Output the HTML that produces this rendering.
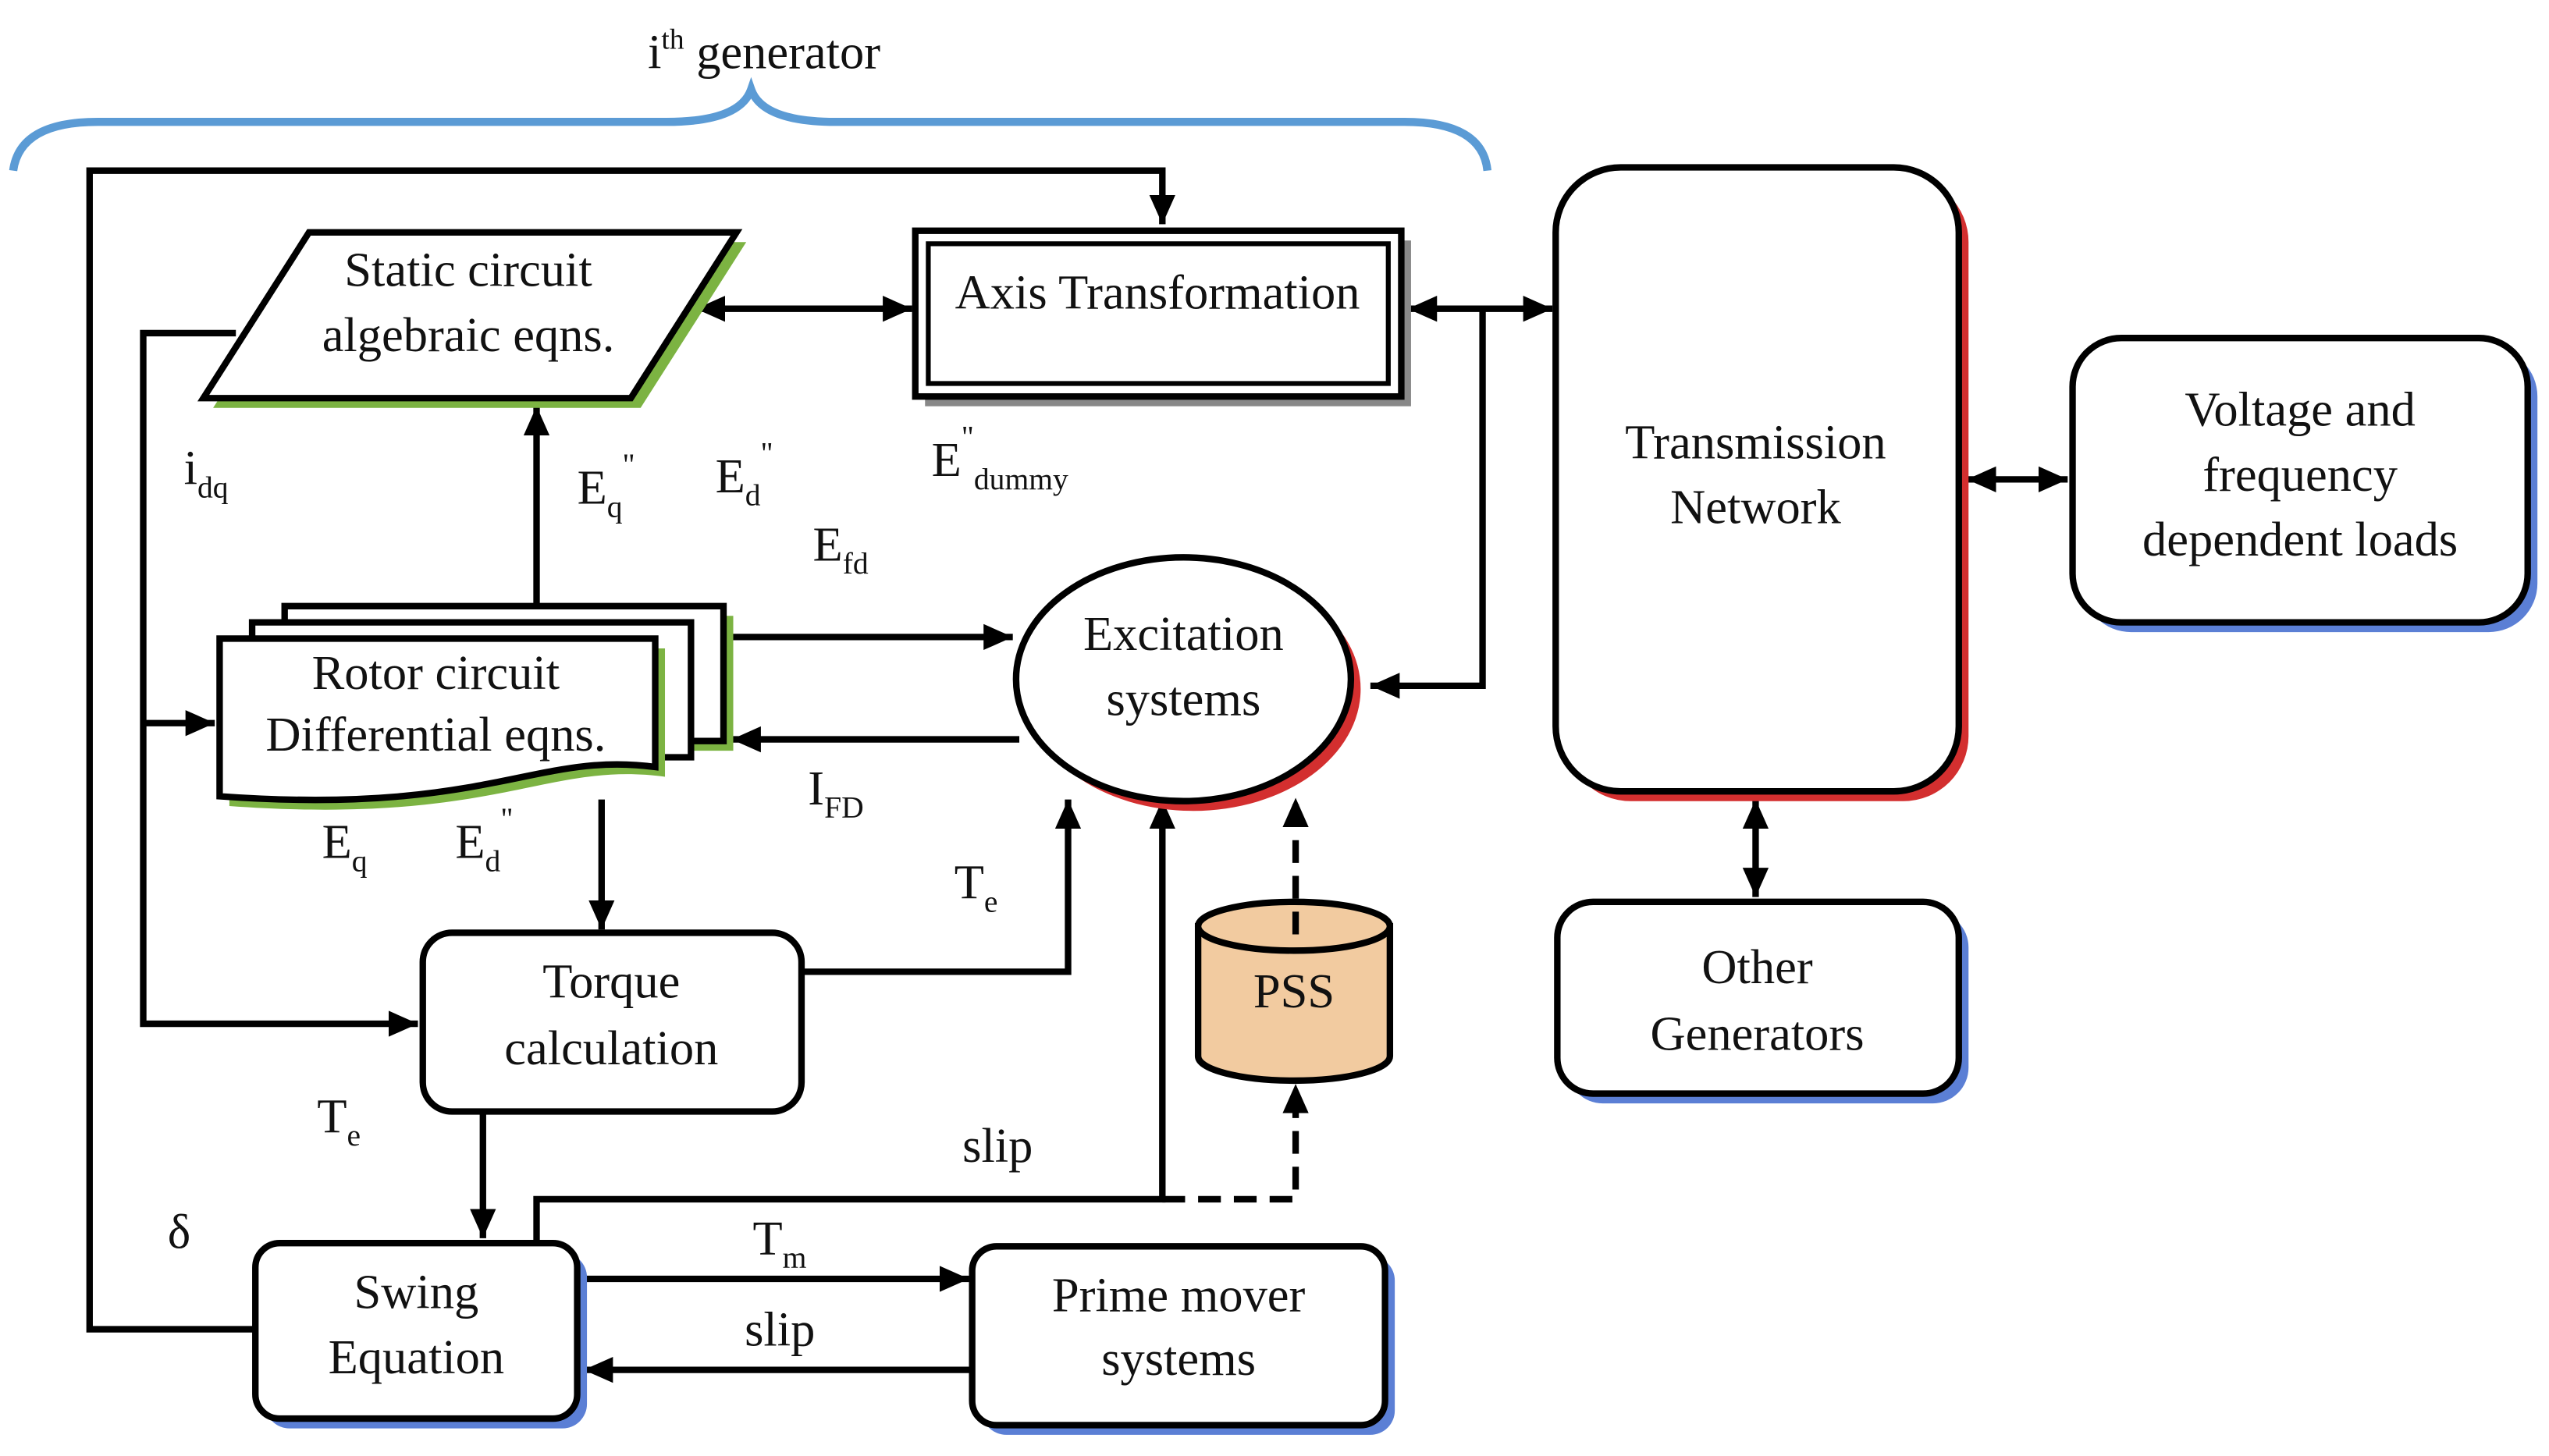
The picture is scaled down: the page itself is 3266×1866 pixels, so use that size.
<!DOCTYPE html>
<html><head><meta charset="utf-8"><style>
html,body{margin:0;padding:0;background:#fff;}
svg{display:block;}
text{font-family:"Liberation Serif",serif;fill:#111;}
</style></head><body>
<svg width="3266" height="1866" viewBox="0 0 1568 896" xmlns="http://www.w3.org/2000/svg">
<defs>
<marker id="A" markerWidth="20" markerHeight="20" refX="18" refY="10" orient="auto" markerUnits="userSpaceOnUse"><path d="M0,2 L18,10 L0,18 z" fill="#000"/></marker>
<marker id="S" markerWidth="20" markerHeight="20" refX="2" refY="10" orient="auto" markerUnits="userSpaceOnUse"><path d="M20,2 L2,10 L20,18 z" fill="#000"/></marker>
</defs>
<g font-size="30" text-anchor="middle">
<path d="M8,105 Q12,75 60,75 L410,75 Q455,75 462,55 Q469,75 514,75 L864,75 Q912,75 915,105" fill="none" stroke="#5b9bd5" stroke-width="5"/>
<text x="470" y="42">i<tspan font-size="18" dy="-12">th</tspan><tspan dy="12"> generator</tspan></text>

<g stroke="#000" stroke-width="4" fill="none">
<polyline points="157,818 55,818 55,105 715,105 715,138" marker-end="url(#A)"/>
<line x1="428" y1="190" x2="561" y2="190" marker-start="url(#S)" marker-end="url(#A)"/>
<line x1="866" y1="190" x2="955" y2="190" marker-start="url(#S)" marker-end="url(#A)"/>
<polyline points="912,190 912,422 843,422" marker-end="url(#A)"/>
<line x1="1210" y1="295" x2="1272" y2="295" marker-start="url(#S)" marker-end="url(#A)"/>
<line x1="1080" y1="492" x2="1080" y2="552" marker-start="url(#S)" marker-end="url(#A)"/>
<line x1="330" y1="373" x2="330" y2="250" marker-end="url(#A)"/>
<line x1="447" y1="392" x2="623" y2="392" marker-end="url(#A)"/>
<line x1="627" y1="455" x2="450" y2="455" marker-end="url(#A)"/>
<polyline points="145,205 88,205 88,630 257,630" marker-end="url(#A)"/>
<line x1="88" y1="445" x2="132" y2="445" marker-end="url(#A)"/>
<line x1="370" y1="492" x2="370" y2="572" marker-end="url(#A)"/>
<polyline points="493,598 657,598 657,492" marker-end="url(#A)"/>
<line x1="297" y1="684" x2="297" y2="762" marker-end="url(#A)"/>
<polyline points="330,765 330,738 715,738 715,492" marker-end="url(#A)"/>
<polyline points="715,738 797,738 797,667" stroke-dasharray="14,8" marker-end="url(#A)"/>
<line x1="797" y1="575" x2="797" y2="491" stroke-dasharray="14,8" marker-end="url(#A)"/>
<line x1="357" y1="787" x2="596" y2="787" marker-end="url(#A)"/>
<line x1="598" y1="843" x2="359" y2="843" marker-end="url(#A)"/>
</g>

<polygon points="131,251 196,149 459,149 394,251" fill="#7cb342"/>
<polygon points="125,245 190,143 453,143 388,245" fill="#fff" stroke="#000" stroke-width="4"/>
<text x="288" y="176">Static circuit</text>
<text x="288" y="216">algebraic eqns.</text>

<rect x="569" y="148" width="299" height="102" fill="#888"/>
<rect x="563" y="142" width="299" height="102" fill="#fff" stroke="#000" stroke-width="4"/>
<rect x="571" y="150" width="283" height="86" fill="none" stroke="#000" stroke-width="3"/>
<text x="712" y="190">Axis Transformation</text>

<rect x="963" y="109" width="248" height="384" rx="40" fill="#d32f2f"/>
<rect x="957" y="103" width="248" height="384" rx="40" fill="#fff" stroke="#000" stroke-width="4"/>
<text x="1080" y="282">Transmission</text>
<text x="1080" y="322">Network</text>

<rect x="1281" y="214" width="280" height="175" rx="30" fill="#5b7fd5"/>
<rect x="1275" y="208" width="280" height="175" rx="30" fill="#fff" stroke="#000" stroke-width="4"/>
<text x="1415" y="262">Voltage and</text>
<text x="1415" y="302">frequency</text>
<text x="1415" y="342">dependent loads</text>

<rect x="964" y="561" width="247" height="118" rx="22" fill="#5b7fd5"/>
<rect x="958" y="555" width="247" height="118" rx="22" fill="#fff" stroke="#000" stroke-width="4"/>
<text x="1081" y="605">Other</text>
<text x="1081" y="646">Generators</text>

<g stroke="#000" stroke-width="4" fill="#fff">
<path d="M181,379 L451,379 L451,462 L181,462 z" fill="#7cb342" stroke="none"/>
<path d="M175,373 L445,373 L445,456 L175,456 z"/>
<path d="M155,383 L425,383 L425,466 L155,466 z"/>
<path d="M141,399 L409,399 L409,478 C336,468 306,508 141,496 z" fill="#7cb342" stroke="none"/>
<path d="M135,393 L403,393 L403,472 C330,462 300,502 135,490 z"/>
</g>
<text x="268" y="424">Rotor circuit</text>
<text x="268" y="462">Differential eqns.</text>

<ellipse cx="734" cy="424" rx="103" ry="75" fill="#d32f2f"/>
<ellipse cx="728" cy="418" rx="103" ry="75" fill="#fff" stroke="#000" stroke-width="4"/>
<text x="728" y="400">Excitation</text>
<text x="728" y="440">systems</text>

<rect x="260" y="574" width="233" height="110" rx="18" fill="#fff" stroke="#000" stroke-width="4"/>
<text x="376" y="614">Torque</text>
<text x="376" y="655">calculation</text>

<path d="M737,570 L737,650 A59,15 0 0 0 855,650 L855,570 Z" fill="#f2cba0" stroke="#000" stroke-width="4"/>
<ellipse cx="796" cy="570" rx="59" ry="15" fill="#f2cba0" stroke="#000" stroke-width="4"/>
<line x1="797" y1="575" x2="797" y2="555" stroke="#000" stroke-width="4" stroke-dasharray="14,8"/>
<text x="796" y="620">PSS</text>

<rect x="163" y="771" width="198" height="108" rx="15" fill="#5b7fd5"/>
<rect x="157" y="765" width="198" height="108" rx="15" fill="#fff" stroke="#000" stroke-width="4"/>
<text x="256" y="805">Swing</text>
<text x="256" y="845">Equation</text>

<rect x="604" y="773" width="254" height="110" rx="15" fill="#5b7fd5"/>
<rect x="598" y="767" width="254" height="110" rx="15" fill="#fff" stroke="#000" stroke-width="4"/>
<text x="725" y="807">Prime mover</text>
<text x="725" y="846">systems</text>
</g>

<g font-size="30">
<text x="113" y="298">i<tspan font-size="19" dy="8">dq</tspan></text>
<text x="355" y="310">E<tspan font-size="19" dy="8">q</tspan><tspan font-size="19" dy="-26">"</tspan></text>
<text x="440" y="303">E<tspan font-size="19" dy="8">d</tspan><tspan font-size="19" dy="-26">"</tspan></text>
<text x="573" y="293">E<tspan font-size="19" dy="-18">"</tspan><tspan font-size="19" dy="26">dummy</tspan></text>
<text x="500" y="345">E<tspan font-size="19" dy="8">fd</tspan></text>
<text x="497" y="495">I<tspan font-size="19" dy="8">FD</tspan></text>
<text x="198" y="528">E<tspan font-size="19" dy="8">q</tspan></text>
<text x="280" y="528">E<tspan font-size="19" dy="8">d</tspan><tspan font-size="19" dy="-26">"</tspan></text>
<text x="587" y="553">T<tspan font-size="19" dy="8">e</tspan></text>
<text x="195" y="697">T<tspan font-size="19" dy="8">e</tspan></text>
<text x="103" y="768">δ</text>
<text x="592" y="715">slip</text>
<text x="463" y="772">T<tspan font-size="19" dy="8">m</tspan></text>
<text x="458" y="828">slip</text>
</g>
</svg>
</body></html>
